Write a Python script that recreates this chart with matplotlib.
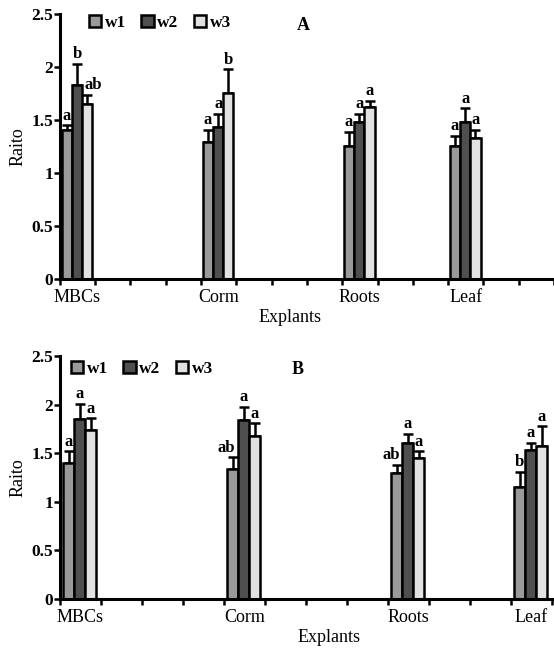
import matplotlib
matplotlib.use("Agg")
import matplotlib.pyplot as plt
import numpy as np

plt.rcParams['font.family'] = ['Liberation Serif', 'DejaVu Serif']

categories = ["MBCs", "Corm", "Roots", "Leaf"]
series = ["w1", "w2", "w3"]
cat_pos = [0, 4, 8, 11]

A_w1 = [1.41, 1.29, 1.25, 1.25]
A_w2 = [1.83, 1.43, 1.48, 1.48]
A_w3 = [1.65, 1.75, 1.62, 1.33]
A_e1 = [0.04, 0.12, 0.14, 0.10]
A_e2 = [0.20, 0.13, 0.08, 0.13]
A_e3 = [0.09, 0.23, 0.06, 0.08]
A_l1 = ["a", "a", "a", "a"]
A_l2 = ["b", "a", "a", "a"]
A_l3 = ["ab", "b", "a", "a"]

B_w1 = [1.40, 1.34, 1.30, 1.15]
B_w2 = [1.85, 1.84, 1.61, 1.53]
B_w3 = [1.74, 1.68, 1.45, 1.57]
B_e1 = [0.12, 0.12, 0.08, 0.16]
B_e2 = [0.16, 0.14, 0.09, 0.08]
B_e3 = [0.12, 0.13, 0.07, 0.21]
B_l1 = ["a", "ab", "ab", "b"]
B_l2 = ["a", "a", "a", "a"]
B_l3 = ["a", "a", "a", "a"]

yticks = [0, 0.5, 1, 1.5, 2, 2.5]
ytick_labels = ["0", "0.5", "1", "1.5", "2", "2.5"]
colors = ["#9a9a9a", "#4f4f4f", "#e2e2e2"]

fig = plt.figure(figsize=(5.54, 6.5), dpi=100)
axA = fig.add_axes([0.108, 0.5708, 0.892, 0.4077])
axB = fig.add_axes([0.108, 0.0785, 0.8884, 0.3738])


def draw(ax, vals, errs, labels, xmax, start, width, title, title_xy, leg_xy):
    handles = []
    for i, (v, e, lab) in enumerate(zip(vals, errs, labels)):
        x = np.array(cat_pos) + start + width * (i + 0.5)
        b = ax.bar(x, v, width=width, color=colors[i], edgecolor="black",
                   linewidth=1.8, zorder=2, label=series[i])
        ax.errorbar(x, v, yerr=[np.zeros(len(e)), e], fmt="none",
                    ecolor="black", elinewidth=1.8, capsize=3.5, capthick=1.8,
                    zorder=1)
        for xi, vi, ei, li in zip(x, v, e, lab):
            if len(li) > 1 and i == 0:
                ha, xx = "right", xi + width * 0.25
            elif len(li) > 1 and i == 2:
                ha, xx = "left", xi - width * 0.25
            else:
                ha, xx = "center", xi
            ax.text(xx, vi + ei + 0.015, li, ha=ha, va="bottom",
                    fontsize=12, fontweight="bold")
        handles.append(b)
    ax.set_xlim(0, xmax)
    ax.set_ylim(0, 2.5)
    ax.set_xticks(np.arange(0, xmax + 1))
    ax.set_xticklabels([])
    ax.set_yticks(yticks)
    ax.set_yticklabels(ytick_labels, fontsize=12.5, fontweight="bold")
    for s in ["top", "right"]:
        ax.spines[s].set_visible(False)
    for s in ["left", "bottom"]:
        ax.spines[s].set_linewidth(2.2)
    ax.tick_params(axis="both", width=1.8, length=4.5, direction="out", pad=0.5)
    for c, p in zip(categories, cat_pos):
        ax.annotate(c, xy=(p + 0.5, 0), xycoords=("data", "axes fraction"),
                    xytext=(0, -7), textcoords="offset points",
                    ha="center", va="top", fontsize=13)
    ax.set_ylabel("Raito", fontsize=13, labelpad=3)
    fig.text(title_xy[0], title_xy[1], title, fontsize=13, fontweight="bold",
             ha="center", va="center")
    ax.legend(handles=handles, loc="upper left", bbox_to_anchor=leg_xy,
              bbox_transform=fig.transFigure, ncol=3, frameon=False,
              handlelength=0.7, handleheight=0.7, handletextpad=0.2,
              columnspacing=0.9, borderaxespad=0,
              prop={"weight": "bold", "size": 12.5})


draw(axA, [A_w1, A_w2, A_w3], [A_e1, A_e2, A_e3], [A_l1, A_l2, A_l3],
     14, 0.05, 0.29, "A", (303 / 554, 1 - 25 / 650), (82 / 554, 1 - 8 / 650))
draw(axB, [B_w1, B_w2, B_w3], [B_e1, B_e2, B_e3], [B_l1, B_l2, B_l3],
     12, 0.08, 0.27, "B", (298 / 554, 1 - 370 / 650), (64 / 554, 1 - 354 / 650))

fig.text(290 / 554, 1 - 318 / 650, "Explants", fontsize=13, ha="center", va="center")
fig.text(329 / 554, 1 - 637 / 650, "Explants", fontsize=13, ha="center", va="center")

fig.savefig("out.png", dpi=100)
